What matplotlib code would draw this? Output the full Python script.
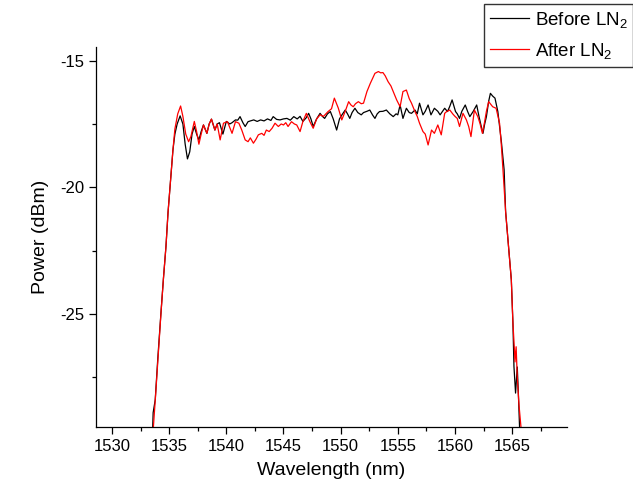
import matplotlib
matplotlib.use("Agg")
import matplotlib.pyplot as plt
from matplotlib.ticker import MultipleLocator

plt.rcParams['font.family'] = ['Liberation Sans', 'DejaVu Sans']
plt.rcParams['mathtext.fontset'] = 'custom'
plt.rcParams['mathtext.rm'] = 'Liberation Sans'
plt.rcParams['mathtext.it'] = 'Liberation Sans'
plt.rcParams['axes.unicode_minus'] = False

before_wl = [1533.55, 1533.6, 1533.78, 1534.0, 1534.28, 1534.5, 1534.72, 1534.9, 1535.1, 1535.33,
             1535.5, 1535.7, 1535.96, 1536.2, 1536.4, 1536.6, 1536.8, 1537.0, 1537.2, 1537.4,
             1537.6, 1537.8, 1538.0, 1538.3, 1538.5, 1538.7, 1539.0, 1539.2, 1539.4, 1539.7,
             1540.0, 1540.3, 1540.5, 1540.8, 1541.0, 1541.2, 1541.45, 1541.65, 1541.9, 1542.1,
             1542.4, 1542.7, 1543.0, 1543.3, 1543.6, 1543.9, 1544.1, 1544.4, 1544.7, 1545.0,
             1545.3, 1545.6, 1545.9, 1546.2, 1546.45, 1546.7, 1547.0, 1547.2, 1547.4, 1547.6,
             1547.9, 1548.2, 1548.4, 1548.6, 1548.85, 1549.1, 1549.35, 1549.65, 1549.9, 1550.1,
             1550.4, 1550.6, 1550.8, 1551.0, 1551.25, 1551.5, 1551.8, 1552.0, 1552.3, 1552.55,
             1552.8, 1553.0, 1553.2, 1553.4, 1553.7, 1554.0, 1554.3, 1554.6, 1554.85, 1555.0,
             1555.2, 1555.45, 1555.75, 1556.0, 1556.2, 1556.5, 1556.7, 1556.9, 1557.2, 1557.4,
             1557.65, 1557.9, 1558.2, 1558.5, 1558.7, 1559.1, 1559.35, 1559.55, 1559.75, 1560.05,
             1560.2, 1560.4, 1560.6, 1560.9, 1561.1, 1561.3, 1561.6, 1561.9, 1562.1, 1562.3,
             1562.45, 1562.6, 1562.75, 1562.95, 1563.1, 1563.3, 1563.5, 1563.75, 1563.9, 1564.06,
             1564.3, 1564.43, 1564.7, 1564.93, 1565.07, 1565.16, 1565.3, 1565.45, 1565.55, 1565.66]
before_pw = [-29.6, -28.9, -28.4, -26.8, -24.97, -23.6, -22.34, -21.0, -19.84, -18.53,
             -17.9, -17.5, -17.18, -17.5, -18.3, -18.88, -18.6, -17.9, -17.6, -17.9,
             -18.13, -17.8, -17.54, -17.87, -17.5, -17.31, -17.74, -17.5, -17.45, -17.9,
             -17.4, -17.5, -17.45, -17.34, -17.35, -17.21, -17.45, -17.6, -17.41, -17.38,
             -17.34, -17.4, -17.34, -17.38, -17.3, -17.36, -17.21, -17.32, -17.34, -17.3,
             -17.28, -17.35, -17.21, -17.3, -17.2, -17.4, -17.25, -17.08, -17.3, -17.6,
             -17.3, -17.08, -17.2, -17.28, -17.1, -17.01, -17.3, -17.74, -17.3, -17.15,
             -16.95, -17.1, -17.28, -17.05, -16.88, -17.05, -17.14, -17.05, -17.0, -16.95,
             -17.15, -17.28, -17.1, -17.01, -17.0, -16.95, -17.1, -17.21, -17.1, -17.14,
             -16.75, -17.28, -16.88, -17.05, -17.08, -16.95, -17.1, -16.68, -17.14, -17.0,
             -16.75, -17.14, -16.88, -17.0, -17.14, -16.88, -17.01, -16.8, -16.55, -17.01,
             -17.1, -17.28, -17.0, -16.75, -17.0, -17.21, -17.0, -16.75, -17.2, -17.6,
             -17.87, -17.5, -17.21, -16.6, -16.29, -16.4, -16.48, -17.01, -17.6, -18.2,
             -19.31, -20.96, -22.4, -23.66, -25.37, -27.08, -28.13, -27.1, -28.2, -29.6]

after_wl = [1533.6, 1533.8, 1534.0, 1534.28, 1534.5, 1534.72, 1534.9, 1535.1, 1535.33, 1535.5,
            1535.75, 1536.0, 1536.2, 1536.45, 1536.7, 1536.9, 1537.2, 1537.4, 1537.6, 1537.8,
            1538.0, 1538.3, 1538.5, 1538.7, 1539.0, 1539.2, 1539.46, 1539.75, 1540.1, 1540.5,
            1540.8, 1541.1, 1541.35, 1541.65, 1541.9, 1542.1, 1542.37, 1542.6, 1542.8, 1543.1,
            1543.3, 1543.5, 1543.75, 1544.0, 1544.26, 1544.55, 1544.8, 1545.0, 1545.2, 1545.4,
            1545.7, 1545.95, 1546.16, 1546.45, 1546.7, 1547.0, 1547.3, 1547.6, 1547.9, 1548.2,
            1548.5, 1548.9, 1549.2, 1549.45, 1549.8, 1550.1, 1550.4, 1550.7, 1550.9, 1551.1,
            1551.3, 1551.55, 1551.8, 1552.0, 1552.3, 1552.6, 1552.8, 1553.0, 1553.3, 1553.5,
            1553.7, 1553.9, 1554.15, 1554.4, 1554.6, 1554.9, 1555.2, 1555.45, 1555.75, 1556.0,
            1556.2, 1556.5, 1556.7, 1556.9, 1557.2, 1557.4, 1557.65, 1557.95, 1558.2, 1558.5,
            1558.8, 1559.1, 1559.3, 1559.55, 1559.8, 1560.0, 1560.2, 1560.4, 1560.7, 1561.0,
            1561.2, 1561.4, 1561.7, 1562.0, 1562.2, 1562.4, 1562.6, 1562.75, 1562.95, 1563.3,
            1563.6, 1563.9, 1564.05, 1564.2, 1564.43, 1564.7, 1564.93, 1565.07, 1565.2, 1565.25,
            1565.35, 1565.45, 1565.6, 1565.8]
after_pw = [-29.6, -28.3, -26.9, -25.0, -23.6, -22.34, -21.0, -19.84, -18.53, -17.7,
            -17.1, -16.79, -17.2, -17.9, -18.2, -18.0, -17.4, -17.8, -18.3, -17.9,
            -17.54, -17.87, -17.5, -17.31, -17.74, -17.5, -18.13, -17.47, -17.41, -17.87,
            -17.41, -17.47, -17.74, -18.13, -18.2, -18.05, -18.26, -18.1, -17.93, -17.87,
            -17.95, -17.74, -17.8, -17.67, -17.47, -17.6, -17.5, -17.54, -17.45, -17.6,
            -17.41, -17.5, -17.54, -17.8, -17.4, -17.08, -17.4, -17.67, -17.3, -17.14,
            -17.2, -17.01, -16.9, -16.48, -16.88, -17.34, -17.0, -16.62, -16.75, -16.82,
            -16.7, -16.62, -16.7, -16.68, -16.22, -15.89, -15.7, -15.5, -15.43, -15.48,
            -15.47, -15.6, -15.83, -16.0, -16.22, -16.55, -16.82, -16.22, -16.16, -16.5,
            -16.68, -17.01, -17.2, -17.47, -17.8, -17.9, -18.33, -17.74, -17.87, -17.54,
            -17.93, -17.08, -17.0, -16.95, -17.1, -17.2, -17.28, -17.6, -17.08, -17.34,
            -17.6, -18.0, -16.95, -17.21, -17.5, -17.87, -17.4, -17.0, -16.62, -16.82,
            -16.88, -17.47, -18.3, -19.31, -20.96, -22.4, -23.66, -25.37, -26.4, -26.9,
            -26.3, -27.5, -28.6, -29.6]

labels = ['Before LN$_2$', 'After LN$_2$']
x_ticks = [1530, 1535, 1540, 1545, 1550, 1555, 1560, 1565]
y_ticks = [-25, -20, -15]

fig = plt.figure(figsize=(6.33, 4.91), dpi=100)
ax = fig.add_axes([96 / 633, 1 - 427 / 491, (567 - 96) / 633, (427 - 47) / 491])

ax.plot(before_wl, before_pw, color='black', lw=0.9, label=labels[0])
ax.plot(after_wl, after_pw, color='#ff0000', lw=0.9, label=labels[1])

ax.set_xlim(1528.6, 1569.8)
ax.set_ylim(-29.47, -14.46)
ax.set_xticks(x_ticks)
ax.set_yticks(y_ticks)
ax.xaxis.set_minor_locator(MultipleLocator(2.5))
ax.yaxis.set_minor_locator(MultipleLocator(2.5))
ax.tick_params(which='major', direction='out', length=5, width=0.9, labelsize=12)
ax.tick_params(which='minor', direction='out', length=3, width=0.9)
for s in ['top', 'right']:
    ax.spines[s].set_visible(False)
for s in ['left', 'bottom']:
    ax.spines[s].set_linewidth(0.9)

ax.set_xlabel('Wavelength (nm)', fontsize=14, labelpad=6)
ax.set_ylabel('Power (dBm)', fontsize=14, labelpad=8)

leg = fig.legend(loc='upper left', bbox_to_anchor=(484 / 633, 1 - 4 / 491),
                 bbox_transform=fig.transFigure, fontsize=13.5, frameon=True,
                 fancybox=False, edgecolor='black', borderaxespad=0, borderpad=0.3,
                 handlelength=2.1, handletextpad=0.3, labelspacing=0.6)
leg.get_frame().set_linewidth(1.0)

fig.savefig('out.png', dpi=100)
